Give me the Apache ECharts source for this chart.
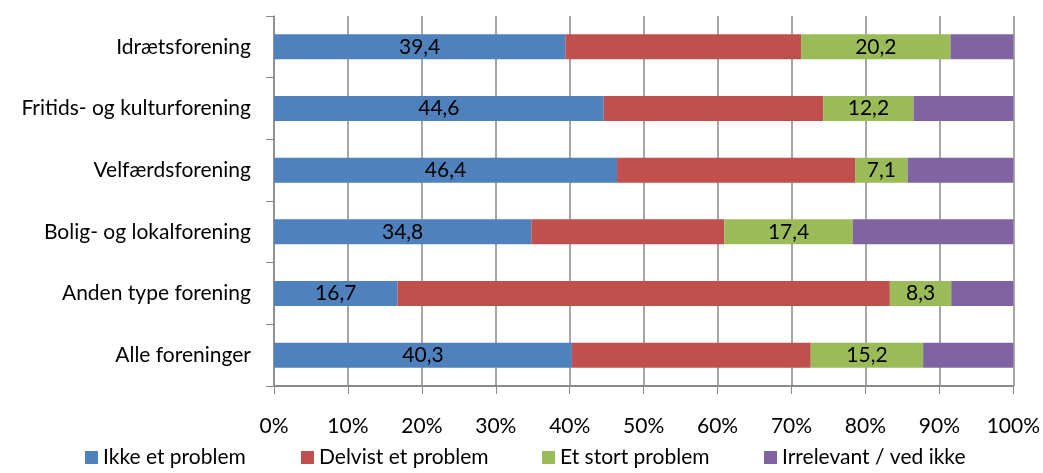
<!DOCTYPE html>
<html>
<head>
<meta charset="utf-8">
<script src="https://cdn.jsdelivr.net/npm/echarts@6/dist/echarts.min.js"></script>
<style>
  html, body { margin: 0; padding: 0; background: #fff; }
  #chart { width: 1043px; height: 473px; }
</style>
</head>
<body>
<div id="chart"></div>
<script>
  // kategorier (oppefra og ned)
  const categories = ['Idrætsforening', 'Fritids- og kulturforening', 'Velfærdsforening',
    'Bolig- og lokalforening', 'Anden type forening', 'Alle foreninger']
  const ikkeEtProblem = [39.4, 44.6, 46.4, 34.8, 16.7, 40.3]
  const delvistEtProblem = [31.9, 29.7, 32.2, 26.1, 66.6, 32.3]
  const etStortProblem = [20.2, 12.2, 7.1, 17.4, 8.3, 15.2]
  const irrelevant = [8.5, 13.5, 14.3, 21.7, 8.4, 12.2]
  const xTicks = [0, 10, 20, 30, 40, 50, 60, 70, 80, 90, 100]

  const FONT = 'Lato'
  const FS = 21
  const chart = echarts.init(document.getElementById('chart'))

  const fmt = (p) => String(p.value).replace('.', ',')
  const barLabel = {
    show: true,
    position: 'inside',
    color: '#000',
    fontFamily: FONT,
    fontSize: FS,
    formatter: fmt
  }

  const legendBase = {
    bottom: 0,
    itemWidth: 13,
    itemHeight: 13,
    icon: 'rect',
    itemGap: 4,
    textStyle: { fontFamily: FONT, fontSize: FS, color: '#000' }
  }

  const option = {
    animation: false,
    grid: { left: 274, right: 28, top: 16, bottom: 87 },
    legend: [
      Object.assign({ left: 80, data: ['Ikke et problem'] }, legendBase),
      Object.assign({ left: 296, data: ['Delvist et problem'] }, legendBase),
      Object.assign({ left: 537, data: ['Et stort problem'] }, legendBase),
      Object.assign({ left: 759, data: ['Irrelevant / ved ikke'] }, legendBase)
    ],
    xAxis: {
      type: 'value',
      min: 0,
      max: 100,
      interval: 10,
      axisLine: { show: true, lineStyle: { color: '#8a8a8a', width: 2 } },
      axisTick: { show: true, length: 8, lineStyle: { color: '#8a8a8a' } },
      splitLine: { show: true, lineStyle: { color: '#8a8a8a', width: 1.5 } },
      axisLabel: {
        margin: 30,
        fontFamily: FONT,
        fontSize: FS,
        color: '#000',
        formatter: (v) => xTicks.includes(v) ? v + '%' : ''
      }
    },
    yAxis: {
      type: 'category',
      inverse: true,
      data: categories,
      axisLine: { show: true, lineStyle: { color: '#8a8a8a', width: 1.5 } },
      axisTick: { show: true, length: 8, lineStyle: { color: '#8a8a8a' } },
      axisLabel: {
        margin: 23,
        fontFamily: FONT,
        fontSize: FS,
        color: '#000'
      }
    },
    series: [
      {
        name: 'Ikke et problem', type: 'bar', stack: 'all', barWidth: 25,
        data: ikkeEtProblem, label: barLabel,
        itemStyle: { color: '#4F81BD' }
      },
      {
        name: 'Delvist et problem', type: 'bar', stack: 'all', barWidth: 25,
        data: delvistEtProblem,
        itemStyle: { color: '#C0504D' }
      },
      {
        name: 'Et stort problem', type: 'bar', stack: 'all', barWidth: 25,
        data: etStortProblem, label: barLabel,
        itemStyle: { color: '#9BBB59' }
      },
      {
        name: 'Irrelevant / ved ikke', type: 'bar', stack: 'all', barWidth: 25,
        data: irrelevant,
        itemStyle: { color: '#8064A2' }
      }
    ]
  }

  chart.setOption(option)
</script>
</body>
</html>
